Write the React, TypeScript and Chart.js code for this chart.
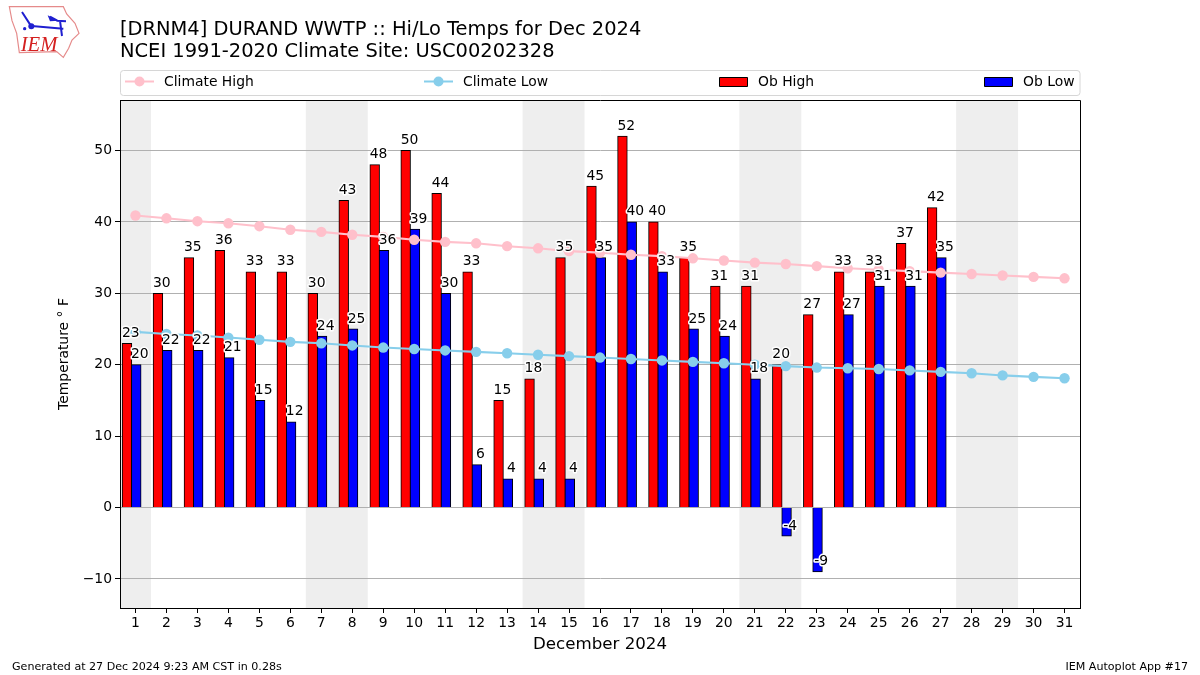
import React, { useEffect, useRef } from "react";
import { Chart, registerables } from "chart.js";

Chart.register(...registerables);

const days = [1,2,3,4,5,6,7,8,9,10,11,12,13,14,15,16,17,18,19,20,21,22,23,24,25,26,27,28,29,30,31];
const obHigh = [23,30,35,36,33,33,30,43,48,50,44,33,15,18,35,45,52,40,35,31,31,20,27,33,33,37,42];
const obLow = [20,22,22,21,15,12,24,25,36,39,30,6,4,4,4,35,40,33,25,24,18,-4,-9,27,31,31,35];
const climateHigh = [40.9,40.5,40.1,39.8,39.4,38.9,38.6,38.2,37.9,37.5,37.2,37.0,36.6,36.3,35.9,35.7,35.4,35.2,34.9,34.6,34.3,34.1,33.8,33.5,33.3,33.1,32.9,32.7,32.5,32.3,32.1];
const climateLow = [24.6,24.3,24.1,23.8,23.5,23.2,23.0,22.7,22.4,22.2,22.0,21.8,21.6,21.4,21.2,21.0,20.8,20.6,20.4,20.2,20.0,19.8,19.6,19.5,19.4,19.2,19.0,18.8,18.5,18.3,18.1];
const weekendRanges = [[0.5,1.5],[6.5,8.5],[13.5,15.5],[20.5,22.5],[27.5,29.5]];
const yTicks = [-10,0,10,20,30,40,50];
const titleLines = ["[DRNM4] DURAND WWTP :: Hi/Lo Temps for Dec 2024", "NCEI 1991-2020 Climate Site: USC00202328"];
const footerLeft = "Generated at 27 Dec 2024 9:23 AM CST in 0.28s";
const footerRight = "IEM Autoplot App #17";
const FONT = "'DejaVu Sans'";

const pageArt = {
  id: "pageArt",
  beforeDraw(chart: any) {
    const { ctx, chartArea: a, scales: { x } } = chart;
    ctx.save();
    ctx.fillStyle = "#ffffff";
    ctx.fillRect(0, 0, chart.width, chart.height);
    ctx.fillStyle = "#eeeeee";
    weekendRanges.forEach(([s, e]) => {
      const l = x.getPixelForValue(s);
      ctx.fillRect(l, a.top, x.getPixelForValue(e) - l, a.bottom - a.top);
    });
    ctx.fillStyle = "#000";
    ctx.textBaseline = "alphabetic";
    ctx.textAlign = "left";
    ctx.font = `19.44px ${FONT}`;
    ctx.fillText(titleLines[0], 120, 35);
    ctx.fillText(titleLines[1], 120, 57);
    ctx.font = `11.1px ${FONT}`;
    ctx.fillText(footerLeft, 12, 670);
    ctx.textAlign = "right";
    ctx.fillText(footerRight, 1188, 670);
    ctx.restore();
  },
  afterDatasetsDraw(chart: any) {
    const { ctx, chartArea: a, scales: { x, y } } = chart;
    ctx.save();
    ctx.font = `13.9px ${FONT}`;
    ctx.textAlign = "center";
    ctx.textBaseline = "alphabetic";
    ctx.lineJoin = "round";
    const label = (d: number, v: number, off: number) => {
      const s = String(v);
      const px = x.getPixelForValue(d + off);
      const py = y.getPixelForValue(v) - 6.5;
      ctx.strokeStyle = "#ffffff";
      ctx.lineWidth = 3;
      ctx.strokeText(s, px, py);
      ctx.fillStyle = "#000";
      ctx.fillText(s, px, py);
    };
    obHigh.forEach((v, i) => label(days[i], v, -0.15));
    obLow.forEach((v, i) => label(days[i], v, 0.14));
    ctx.strokeStyle = "#000";
    ctx.lineWidth = 1;
    ctx.strokeRect(a.left + 0.5, a.top + 0.5, a.right - a.left, a.bottom - a.top);

    // legend
    const ds = chart.data.datasets;
    ctx.strokeStyle = "#d6d6d6";
    ctx.fillStyle = "#fff";
    ctx.beginPath();
    ctx.roundRect(120.5, 70.5, 959.5, 25, 3);
    ctx.fill();
    ctx.stroke();
    const handles = [125, 424, 719, 984];
    ctx.font = `13.9px ${FONT}`;
    ctx.textAlign = "left";
    ds.forEach((d: any, i: number) => {
      const h = handles[i];
      if (d.type === "line") {
        ctx.strokeStyle = d.borderColor;
        ctx.lineWidth = 2;
        ctx.beginPath();
        ctx.moveTo(h, 81.5);
        ctx.lineTo(h + 29, 81.5);
        ctx.stroke();
        ctx.fillStyle = d.borderColor;
        ctx.beginPath();
        ctx.arc(h + 14.5, 81.5, 5, 0, Math.PI * 2);
        ctx.fill();
      } else {
        ctx.fillStyle = d.backgroundColor;
        ctx.fillRect(h + 0.5, 77.5, 28, 9);
        ctx.strokeStyle = "#000";
        ctx.lineWidth = 1;
        ctx.strokeRect(h + 0.5, 77.5, 28, 9);
      }
      ctx.fillStyle = "#000";
      ctx.fillText(d.label, h + 39, 86);
    });
    ctx.restore();
  },
};

export default function App() {
  const ref = useRef<HTMLCanvasElement>(null);
  useEffect(() => {
    const chart = new Chart(ref.current as any, {
      data: {
        datasets: [
          { type: "line", label: "Climate High", data: days.map((d, i) => ({ x: d, y: climateHigh[i] })), borderColor: "pink", backgroundColor: "pink", borderWidth: 2.1, pointRadius: 5.2, pointBorderWidth: 0, order: 1 },
          { type: "line", label: "Climate Low", data: days.map((d, i) => ({ x: d, y: climateLow[i] })), borderColor: "skyblue", backgroundColor: "skyblue", borderWidth: 2.1, pointRadius: 5.2, pointBorderWidth: 0, order: 2 },
          { type: "bar", label: "Ob High", data: obHigh.map((v, i) => ({ x: days[i] - 0.275, y: v })), backgroundColor: "#ff0000", borderColor: "#000", borderWidth: 1, barThickness: 9.6, inflateAmount: 0.4, grouped: false, order: 4 },
          { type: "bar", label: "Ob Low", data: obLow.map((v, i) => ({ x: days[i] + 0.025, y: v })), backgroundColor: "#0000ff", borderColor: "#000", borderWidth: 1, barThickness: 9.6, inflateAmount: 0.4, grouped: false, order: 3 },
        ] as any,
      },
      options: {
        responsive: false,
        animation: false,
        events: [],
        layout: { padding: { left: 56, top: 100, right: 120, bottom: 20 } },
        plugins: { legend: { display: false }, title: { display: false }, tooltip: { enabled: false } },
        scales: {
          x: {
            type: "linear",
            offset: false,
            min: 0.5,
            max: 31.5,
            afterBuildTicks: (s: any) => { s.ticks = days.map((value) => ({ value })); },
            afterFit: (s: any) => { s.height = 47; },
            grid: { offset: false, drawOnChartArea: false, drawTicks: true, tickColor: "#000", tickLength: 5 },
            border: { color: "#000" },
            ticks: { color: "#000", font: { family: FONT, size: 13.9 }, autoSkip: false, maxRotation: 0, minRotation: 0, padding: 2, callback: (v: any) => String(v) },
            title: { display: true, text: "December 2024", color: "#000", font: { family: FONT, size: 16.67 }, padding: 0 },
          },
          y: {
            type: "linear",
            min: -14.07,
            max: 57.07,
            afterBuildTicks: (s: any) => { s.ticks = yTicks.map((value) => ({ value })); },
            afterFit: (s: any) => { s.width = 64; },
            grid: { color: "#b0b0b0", lineWidth: 1, tickColor: "#000", tickLength: 5 },
            border: { color: "#000" },
            ticks: { color: "#000", font: { family: FONT, size: 13.9 }, padding: 3, callback: (v: any) => String(v).replace("-", "\u2212") },
            title: { display: true, text: "Temperature \u00b0 F", color: "#000", font: { family: FONT, size: 13.9 }, padding: 0 },
          },
        },
      } as any,
      plugins: [pageArt],
    } as any);
    return () => chart.destroy();
  }, []);
  return (
    <div style={{ position: "fixed", left: 0, top: 0, width: 1200, height: 675 }}>
      <canvas ref={ref} width={1200} height={675} style={{ display: "block" }} />
      <svg width={90} height={65} viewBox="0 0 270 195" style={{ position: "absolute", left: 0, top: 0 }}>
        <path d="M28 20 L190 20 L200 42 L225 70 L237 100 L216 120 L206 145 L190 172 L170 155 L58 158 L50 100 L36 62 Z" fill="#fff" stroke="#e58a8a" strokeWidth="3.5" />
        <path d="M95 78 L190 86 M66 36 L92 76 M180 62 L186 108 M150 50 L172 62 L198 64" fill="none" stroke="#1f1fd0" strokeWidth="6" />
        <path d="M143 46 L175 62 L150 64 Z" fill="#1f1fd0" />
        <circle cx="94" cy="79" r="9" fill="#1f1fd0" />
        <circle cx="74" cy="86" r="5" fill="#1f1fd0" />
        <text x="62" y="154" fontFamily="'Liberation Serif'" fontStyle="italic" fontSize="62" fill="#d42020">IEM</text>
      </svg>
    </div>
  );
}
